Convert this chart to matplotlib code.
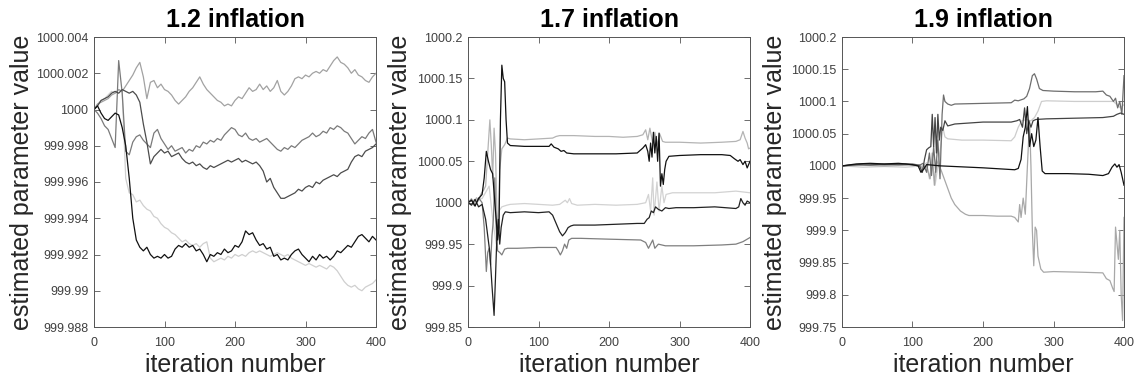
import numpy as np
import matplotlib.pyplot as plt
from matplotlib.ticker import FuncFormatter

plt.rcParams['font.family'] = ['Liberation Sans', 'DejaVu Sans']

# ---- 1.2 inflation: deviations from 1000, in units of 1e-3, every 5 iterations
p1_iters = np.arange(0, 401, 5)

p1_a = [0.0, 0.3, 0.4, 0.5, 0.6, 0.8, 0.9, 1.1, 1.0, 1.3,
        1.6, 1.9, 2.3, 2.6, 1.8, 0.6, 1.5, 1.6, 1.2, 1.4,
        1.1, 1.0, 0.8, 0.5, 0.3, 0.5, 0.7, 1.0, 1.2, 1.5,
        1.8, 1.4, 1.1, 0.9, 0.7, 0.5, 0.4, 0.2, 0.3, 0.2,
        0.5, 0.7, 0.6, 0.9, 1.2, 1.0, 1.1, 1.4, 1.1, 1.3,
        1.0, 1.2, 1.6, 1.0, 0.8, 1.0, 1.3, 1.7, 1.8, 1.7,
        1.9, 1.8, 2.0, 2.1, 2.0, 2.2, 2.1, 2.4, 2.7, 2.9,
        2.6, 2.5, 2.3, 2.0, 2.2, 1.9, 1.8, 1.6, 1.5, 1.8,
        2.0]
p1_b = [0.0, -0.2, -0.5, -0.9, -1.1, -1.6, -2.1, 2.7, 0.9, -2.3,
        -2.5, -1.8, -1.5, -1.4, -1.7, -1.9, -2.1, -1.3, -1.1, -1.6,
        -1.9, -2.2, -2.0, -2.3, -2.2, -2.1, -2.4, -2.2, -2.3, -2.0,
        -2.1, -1.8, -1.9, -1.7, -1.8, -1.6, -1.7, -1.4, -1.2, -1.0,
        -1.1, -1.4, -1.5, -1.3, -1.6, -1.7, -1.6, -1.8, -1.7, -1.6,
        -1.8, -2.0, -2.2, -2.3, -2.1, -2.2, -2.0, -2.1, -1.9, -1.7,
        -1.6, -1.5, -1.3, -1.5, -1.4, -1.2, -1.3, -1.0, -1.1, -0.9,
        -1.0, -1.2, -1.3, -1.6, -1.9, -1.7, -1.5, -1.6, -1.3, -1.1,
        -1.8]
p1_c = [0.0, 0.2, 0.5, 0.6, 0.7, 0.9, 1.0, 0.9, 1.1, 1.0,
        0.9, 1.0, 0.8, 0.4, -0.8, -1.8, -3.0, -2.6, -2.4, -2.2,
        -2.4, -2.3, -2.6, -2.5, -2.4, -2.7, -2.9, -3.0, -2.9, -3.1,
        -3.0, -3.2, -3.3, -3.1, -3.2, -3.1, -3.0, -2.9, -2.8, -2.9,
        -2.8, -2.7, -2.9, -2.8, -2.9, -3.0, -2.9, -3.1, -3.4, -4.0,
        -3.8, -4.3, -4.6, -4.9, -4.9, -4.8, -4.7, -4.6, -4.4, -4.5,
        -4.3, -4.2, -4.3, -4.0, -4.1, -3.9, -3.8, -3.7, -3.6, -3.7,
        -3.5, -3.4, -3.3, -2.9, -2.6, -2.5, -2.6, -2.3, -2.2, -2.1,
        -1.9]
p1_d = [0.0, 0.2, -0.2, -0.5, -0.6, -0.4, -0.2, -0.3, -1.0, -2.0,
        -3.8, -6.0, -7.2, -7.6, -7.8, -7.6, -8.0, -8.2, -8.1, -8.2,
        -8.0, -8.2, -8.1, -7.7, -7.5, -7.6, -7.4, -7.6, -7.5, -7.8,
        -7.7, -8.0, -8.4, -8.0, -8.1, -7.9, -8.0, -7.7, -7.9, -7.8,
        -7.5, -7.6, -7.3, -6.7, -6.9, -6.8, -7.2, -7.5, -7.4, -7.7,
        -7.6, -8.1, -8.0, -8.3, -8.2, -8.3, -8.0, -7.8, -7.7, -8.0,
        -8.2, -8.4, -8.1, -8.3, -8.0, -8.2, -8.1, -8.3, -8.1, -7.8,
        -7.9, -7.7, -7.5, -7.6, -7.3, -7.0, -6.9, -7.1, -7.3, -7.0,
        -7.2]
p1_e = [0.0, 0.3, 0.5, 0.6, 0.8, 1.0, 0.9, 1.1, 1.0, -3.8,
        -4.6, -4.7, -5.1, -5.0, -5.3, -5.5, -5.6, -5.9, -6.0, -6.3,
        -6.5, -6.6, -6.8, -6.9, -7.1, -7.3, -7.2, -7.4, -7.5, -7.4,
        -7.6, -7.4, -7.3, -8.2, -8.4, -8.3, -8.2, -8.3, -8.1, -8.2,
        -8.0, -8.1, -8.0, -8.1, -7.9, -7.8, -7.9, -7.8, -7.9, -8.0,
        -8.1, -8.0, -7.9, -8.0, -8.1, -8.0, -8.2, -8.3, -8.4, -8.5,
        -8.6, -8.5, -8.6, -8.7, -8.6, -8.7, -8.8, -8.6, -8.7, -8.9,
        -9.2, -9.5, -9.7, -9.8, -9.7, -9.9, -10.0, -9.8, -9.7, -9.6,
        -9.4]

# ---- 1.7 inflation: (iteration, deviation from 1000)
p2_a = [(0, 0.0), (5, 0.005), (8, -0.003), (12, 0.006), (15, 0.002), (18, 0.01),
        (22, 0.015), (25, 0.02), (28, 0.06), (31, 0.1), (33, 0.07), (35, 0.03),
        (37, 0.09), (39, 0.06), (41, -0.01), (43, -0.03), (45, 0.04), (48, 0.065),
        (52, 0.07), (56, 0.078), (60, 0.077), (80, 0.076), (100, 0.077), (120, 0.078),
        (125, 0.08), (130, 0.081), (150, 0.081), (180, 0.08), (200, 0.08), (220, 0.079),
        (240, 0.08), (248, 0.082), (252, 0.088), (255, 0.076), (258, 0.09), (262, 0.072),
        (265, 0.085), (268, 0.07), (272, 0.083), (276, 0.074), (280, 0.073), (300, 0.073),
        (330, 0.072), (360, 0.073), (380, 0.074), (386, 0.076), (390, 0.086), (393, 0.078),
        (396, 0.072), (398, 0.065), (400, 0.066)]
p2_b = [(0, 0.0), (5, 0.003), (10, -0.004), (15, 0.005), (20, 0.01), (23, 0.03),
        (26, 0.062), (29, 0.05), (32, 0.04), (35, 0.035), (38, 0.0), (40, -0.02),
        (42, -0.045), (44, -0.03), (46, 0.1), (48, 0.166), (50, 0.15), (52, 0.146),
        (54, 0.1), (56, 0.072), (60, 0.069), (80, 0.068), (100, 0.068), (115, 0.068),
        (118, 0.071), (122, 0.067), (128, 0.065), (132, 0.062), (136, 0.063), (140, 0.06),
        (150, 0.059), (180, 0.059), (210, 0.059), (240, 0.06), (248, 0.066), (252, 0.07),
        (255, 0.062), (257, 0.05), (259, 0.072), (261, 0.055), (263, 0.085), (265, 0.06),
        (267, 0.08), (269, 0.05), (271, 0.084), (273, 0.02), (275, 0.035), (277, 0.022),
        (279, 0.04), (281, 0.05), (285, 0.056), (300, 0.057), (330, 0.058), (360, 0.058),
        (372, 0.057), (378, 0.053), (383, 0.05), (386, 0.052), (390, 0.046), (393, 0.05),
        (396, 0.042), (400, 0.05)]
p2_c = [(0, 0.0), (10, 0.004), (20, 0.005), (30, 0.02), (35, -0.02), (40, -0.05),
        (44, -0.01), (48, -0.005), (55, -0.003), (60, -0.002), (80, -0.001), (100, -0.002),
        (120, -0.003), (130, -0.002), (138, 0.003), (141, 0.0), (144, 0.005), (147, -0.001),
        (155, -0.003), (180, -0.002), (210, -0.003), (240, -0.002), (252, 0.0), (256, 0.01),
        (259, -0.01), (262, 0.03), (264, -0.015), (268, 0.025), (271, -0.01), (275, 0.02),
        (278, 0.0), (281, 0.01), (290, 0.012), (320, 0.012), (350, 0.012), (380, 0.014),
        (400, 0.012)]
p2_d = [(0, 0.0), (5, -0.003), (10, 0.004), (15, -0.005), (20, -0.002), (25, -0.02),
        (28, -0.04), (31, -0.06), (34, -0.1), (37, -0.136), (39, -0.09), (41, -0.04),
        (43, -0.02), (45, -0.05), (47, -0.03), (50, -0.015), (53, -0.011), (60, -0.012),
        (80, -0.011), (100, -0.012), (115, -0.011), (120, -0.015), (125, -0.025),
        (130, -0.035), (134, -0.04), (138, -0.036), (142, -0.03), (146, -0.028),
        (150, -0.027), (180, -0.027), (210, -0.026), (240, -0.025), (250, -0.025),
        (254, -0.02), (257, -0.018), (260, -0.01), (263, -0.012), (266, -0.005),
        (270, -0.008), (275, -0.01), (280, -0.006), (285, -0.007), (295, -0.006),
        (320, -0.006), (350, -0.005), (380, -0.007), (384, -0.005), (387, 0.005),
        (390, 0.0), (393, -0.003), (396, 0.002), (400, 0.0)]
p2_e = [(0, 0.0), (5, 0.004), (10, -0.004), (15, 0.006), (20, 0.0), (23, -0.03),
        (26, -0.083), (28, -0.06), (30, -0.055), (32, -0.075), (34, -0.04), (36, -0.02),
        (38, 0.03), (40, -0.03), (42, -0.058), (45, -0.06), (48, -0.063), (52, -0.056),
        (56, -0.055), (70, -0.055), (100, -0.054), (125, -0.054), (128, -0.058),
        (131, -0.063), (134, -0.058), (137, -0.05), (140, -0.055), (143, -0.045),
        (147, -0.043), (160, -0.043), (200, -0.044), (245, -0.045), (252, -0.048),
        (256, -0.055), (259, -0.05), (262, -0.045), (265, -0.055), (270, -0.05),
        (280, -0.052), (320, -0.052), (360, -0.051), (380, -0.05), (390, -0.047),
        (400, -0.042)]

# ---- 1.9 inflation: (iteration, deviation from 1000)
p3_a = [(0, 0.0), (20, 0.002), (40, 0.001), (60, 0.003), (80, 0.002), (100, 0.003),
        (110, 0.001), (115, 0.004), (120, -0.01), (124, 0.02), (127, -0.015), (130, 0.03),
        (133, -0.01), (136, 0.04), (139, -0.02), (142, 0.08), (144, 0.11), (146, 0.1),
        (150, 0.096), (155, 0.094), (160, 0.096), (200, 0.097), (240, 0.098), (245, 0.102),
        (250, 0.101), (258, 0.104), (262, 0.108), (266, 0.12), (270, 0.14), (273, 0.143),
        (276, 0.135), (280, 0.12), (285, 0.117), (300, 0.116), (330, 0.115), (360, 0.115),
        (370, 0.116), (375, 0.11), (380, 0.108), (385, 0.1), (388, 0.105), (391, 0.09),
        (394, 0.1), (397, 0.08), (400, 0.14)]
p3_b = [(0, 0.0), (30, 0.003), (60, 0.002), (90, 0.003), (110, 0.0), (114, -0.01),
        (117, 0.01), (120, 0.025), (123, 0.028), (126, 0.03), (128, 0.08), (130, 0.03),
        (132, 0.075), (134, 0.02), (136, 0.08), (138, 0.04), (140, 0.06), (143, 0.055),
        (146, 0.07), (150, 0.062), (160, 0.065), (200, 0.068), (240, 0.068), (248, 0.07),
        (252, 0.072), (256, 0.06), (259, 0.09), (262, 0.05), (265, 0.07), (268, 0.06),
        (271, 0.07), (275, 0.072), (290, 0.073), (330, 0.074), (370, 0.075), (385, 0.077),
        (390, 0.08), (395, 0.082), (400, 0.08)]
p3_c = [(0, 0.0), (30, -0.002), (60, -0.001), (90, -0.002), (115, 0.0), (120, 0.005),
        (124, -0.02), (128, 0.01), (132, -0.03), (136, 0.0), (140, 0.03), (143, 0.06),
        (146, 0.045), (150, 0.042), (170, 0.04), (200, 0.04), (240, 0.039), (245, 0.045),
        (250, 0.06), (255, 0.07), (262, 0.072), (268, 0.07), (273, 0.075), (278, 0.085),
        (283, 0.1), (290, 0.101), (330, 0.1), (370, 0.1), (385, 0.1), (390, 0.095),
        (395, 0.09), (400, 0.095)]
p3_d = [(0, 0.0), (20, 0.003), (40, 0.004), (60, 0.003), (80, 0.004), (100, 0.002),
        (108, 0.0), (112, -0.01), (116, -0.005), (120, 0.002), (130, 0.001), (140, 0.0),
        (160, -0.001), (200, -0.003), (230, -0.005), (245, -0.006), (250, -0.004),
        (254, 0.01), (257, 0.045), (260, 0.06), (263, 0.092), (266, 0.03), (269, 0.05),
        (272, 0.03), (275, 0.04), (278, 0.075), (281, 0.03), (284, -0.008), (288, -0.012),
        (320, -0.012), (350, -0.013), (370, -0.015), (378, -0.012), (383, -0.002),
        (387, 0.003), (390, -0.002), (393, 0.002), (396, -0.01), (400, -0.03)]
p3_e = [(0, 0.0), (30, 0.001), (60, 0.0), (90, 0.001), (110, 0.002), (115, -0.005),
        (120, 0.0), (125, -0.02), (128, 0.02), (131, -0.03), (134, 0.01), (137, 0.0),
        (140, -0.005), (145, -0.02), (150, -0.035), (155, -0.05), (160, -0.06),
        (168, -0.07), (175, -0.075), (180, -0.077), (200, -0.077), (220, -0.078),
        (240, -0.078), (245, -0.08), (250, -0.087), (252, -0.06), (254, -0.08),
        (257, -0.05), (260, -0.075), (263, 0.0), (266, 0.07), (268, 0.0), (270, -0.1),
        (272, -0.155), (274, -0.095), (276, -0.1), (278, -0.14), (282, -0.16),
        (286, -0.165), (300, -0.164), (340, -0.165), (370, -0.166), (375, -0.175),
        (380, -0.178), (384, -0.19), (386, -0.195), (388, -0.095), (390, -0.12),
        (392, -0.145), (394, -0.1), (396, -0.2), (398, -0.24), (400, -0.08)]

titles = ['1.2 inflation', '1.7 inflation', '1.9 inflation']
p1_yticks = [999.988, 999.990, 999.992, 999.994, 999.996, 999.998, 1000.0, 1000.002, 1000.004]
p2_yticks = [999.85, 999.9, 999.95, 1000.0, 1000.05, 1000.1, 1000.15, 1000.2]
p3_yticks = [999.75, 999.8, 999.85, 999.9, 999.95, 1000.0, 1000.05, 1000.1, 1000.15, 1000.2]


def tidy(v, _):
    return f'{v:.3f}'.rstrip('0').rstrip('.')


def draw_pairs(ax, series, colors):
    for pts, col in zip(series, colors):
        it, dev = zip(*pts)
        ax.plot(it, 1000 + np.array(dev), color=col, lw=0.9)


fig = plt.figure(figsize=(11.35, 3.85), dpi=100)
lefts = [94, 468, 842]
axes = [fig.add_axes([l / 1135, 58 / 385, 282 / 1135, 290 / 385]) for l in lefts]

# 1.2 inflation
for vals, col in zip([p1_e, p1_a, p1_b, p1_c, p1_d],
                     ['#cfcfcf', '#a2a2a2', '#7a7a7a', '#4c4c4c', '#111111']):
    axes[0].plot(p1_iters, 1000 + np.array(vals) * 1e-3, color=col, lw=0.9)
axes[0].set_ylim(999.988, 1000.004)
axes[0].set_yticks(p1_yticks)

# 1.7 inflation
draw_pairs(axes[1], [p2_c, p2_a, p2_e, p2_d, p2_b],
           ['#d2d2d2', '#b4b4b4', '#7f7f7f', '#222222', '#111111'])
axes[1].set_ylim(999.85, 1000.2)
axes[1].set_yticks(p2_yticks)

# 1.9 inflation
draw_pairs(axes[2], [p3_c, p3_e, p3_a, p3_b, p3_d],
           ['#cdcdcd', '#a8a8a8', '#6e6e6e', '#444444', '#111111'])
axes[2].set_ylim(999.75, 1000.2)
axes[2].set_yticks(p3_yticks)

label_off = [60, 56, 55]
for ax, title, off in zip(axes, titles, label_off):
    ax.set_xlim(0, 400)
    ax.set_xticks([0, 100, 200, 300, 400])
    ax.yaxis.set_major_formatter(FuncFormatter(tidy))
    ax.tick_params(direction='in', length=4, width=0.6, top=True, right=True,
                   labelsize=9, labelcolor='#404040', color='#555555', pad=4)
    ax.tick_params(axis='x', pad=7)
    for sp in ax.spines.values():
        sp.set_color('#555555')
        sp.set_linewidth(0.7)
    ax.set_title(title, fontsize=18, fontweight='bold', pad=7)
    ax.set_xlabel('iteration number', fontsize=18, color='#262626', labelpad=3)
    ax.set_ylabel('estimated parameter value', fontsize=18, color='#262626')
    ax.yaxis.set_label_coords(-off / 282, 0.5)

fig.savefig('out.png', dpi=100)
